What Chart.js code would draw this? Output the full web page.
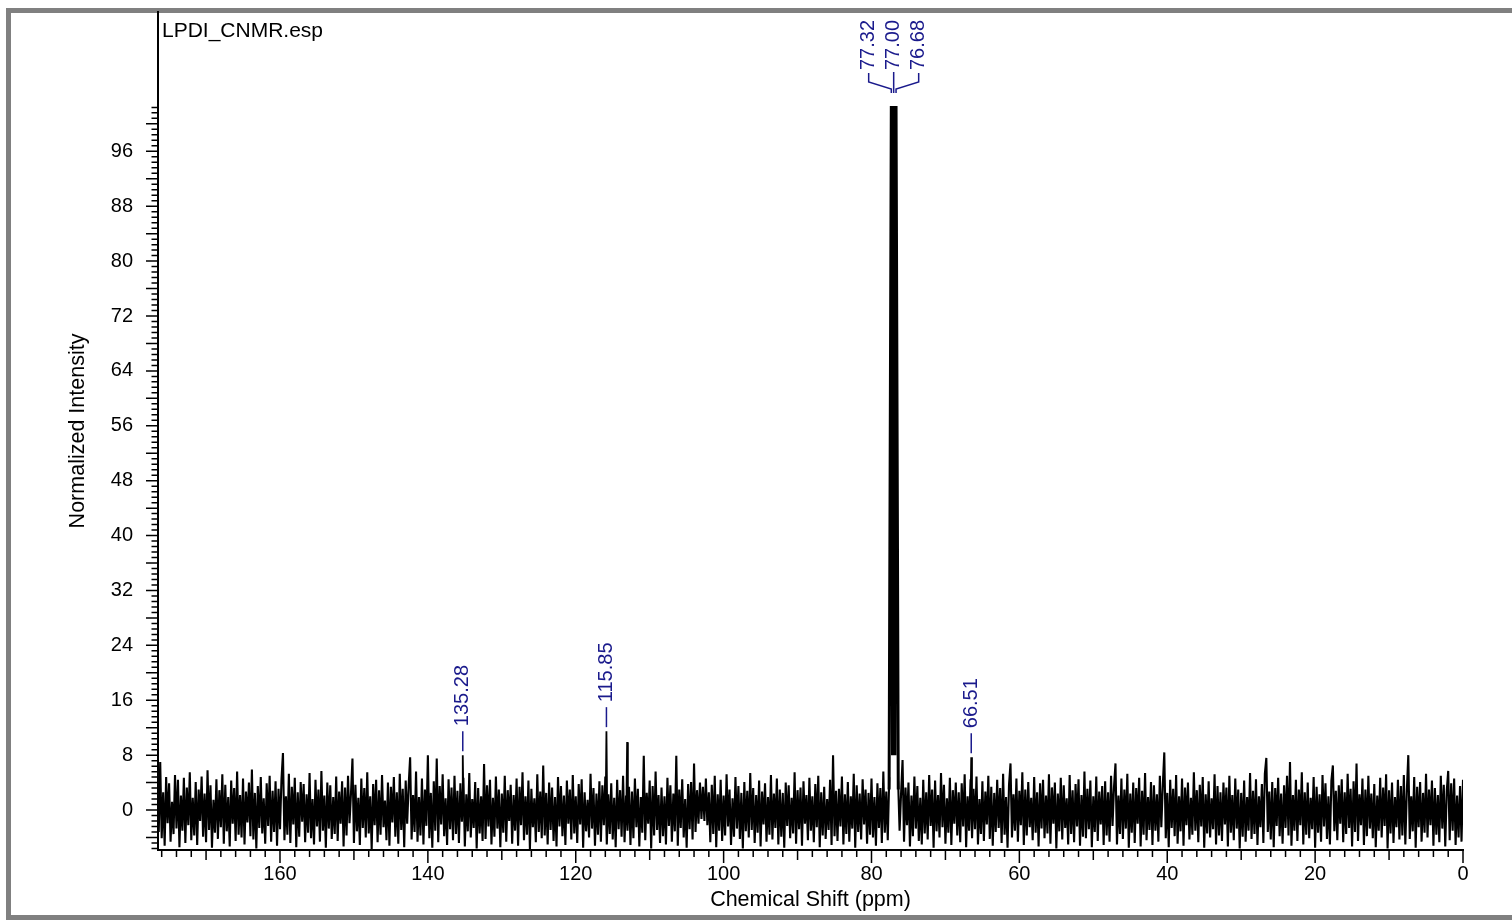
<!DOCTYPE html>
<html>
<head>
<meta charset="utf-8">
<title>LPDI_CNMR</title>
<script src="https://cdn.jsdelivr.net/npm/chart.js@4.4.1/dist/chart.umd.min.js"></script>
<style>
  html, body { margin: 0; padding: 0; background: #fff; }
  #frame {
    position: absolute; left: 6px; top: 8px; width: 1506px; height: 912px;
    box-sizing: border-box;
    border-left: 5px solid #808080; border-top: 5px solid #808080; border-bottom: 5px solid #808080;
  }
  #wrap { position: absolute; left: 0; top: 0; width: 1512px; height: 920px; }
</style>
</head>
<body>
<div id="frame"></div>
<div id="wrap"><canvas id="nmrChart"></canvas></div>
<script>
// --- Spectrum data ---
const fileName = 'LPDI_CNMR.esp';

// baseline noise, sampled every 0.2 ppm from 176.4 ppm down to 0 ppm (20 per row)
const ppmStart = 176.4;
const ppmStep = 0.2;
const intensity = [
  -3.2, 7.0, -4.1, 2.6, -5.2, 4.8, -1.9, 3.9, -4.6, 1.2, -3.5, 5.1, -2.7, 4.4, -5.4, 2.1, -3.0, 4.7, -4.8, 3.3,
  -2.2, 5.5, -4.4, 1.8, -3.7, 4.1, -5.1, 3.0, -1.6, 4.9, -3.9, 2.4, -4.7, 5.8, -2.9, 3.6, -5.5, 1.5, -3.3, 4.5,
  -4.2, 2.9, -2.5, 5.2, -4.9, 3.7, -3.1, 1.9, -5.3, 4.3, -2.0, 3.2, -4.5, 5.6, -3.6, 2.2, -4.0, 4.6, -5.0, 2.7,
  -1.8, 4.0, -3.8, 5.9, -4.3, 2.5, -5.6, 3.5, -2.6, 4.8, -3.4, 1.7, -4.9, 3.9, -2.3, 5.0, -4.6, 2.8, -3.2, 4.2,
  -5.2, 3.1, -2.8, 4.5, 8.3, -4.4, 2.0, -3.6, 5.3, -4.8, 3.4, -2.1, 4.7, -5.4, 2.6, -3.9, 4.1, -1.7, 3.8, -4.7,
  2.3, -3.3, 5.4, -4.1, 1.6, -5.0, 4.4, -2.4, 3.0, -4.6, 5.7, -3.0, 2.1, -5.5, 4.0, -2.7, 3.6, -4.2, 1.9, -3.5,
  4.9, -4.5, 2.7, -2.0, 4.2, -5.3, 3.3, -3.7, 5.0, -1.9, 2.4, 7.5, -4.8, 3.7, -3.1, 1.8, -5.1, 4.6, -2.6, 3.2,
  -4.0, 5.5, -3.4, 2.0, -5.7, 3.8, -2.2, 4.4, -4.7, 2.9, -3.6, 5.1, -2.5, 1.4, -4.4, 4.0, -5.2, 3.4, -1.8, 4.8,
  -3.9, 2.6, -4.9, 5.3, -2.9, 3.1, -5.4, 4.3, -2.0, 3.6, 7.7, -4.3, 2.2, -3.2, 5.6, -4.6, 1.9, -3.7, 4.6, -5.0,
  3.0, -2.3, 8.0, -4.1, 2.5, -5.5, 4.2, -3.0, 7.5, -4.7, 3.5, -2.1, 5.2, -3.8, 1.7, -5.1, 4.5, -2.8, 3.3, -4.4,
  5.0, -3.5, 2.8, -4.8, 3.9, -1.7, 4.7, -5.3, 2.3, -3.1, 5.4, -4.0, 1.6, -2.6, 4.1, -5.6, 3.2, -3.4, 2.0, -4.5,
  6.7, -4.2, 3.6, -2.4, 4.4, -5.0, 1.8, -3.9, 4.9, -2.7, 3.0, -5.4, 2.4, -3.3, 5.0, -4.6, 2.9, -1.6, 3.7, -4.9,
  2.2, -3.0, 4.6, -5.2, 3.4, -2.2, 5.5, -4.4, 2.0, -3.6, 4.3, -5.7, 3.1, -2.5, 1.7, -4.7, 5.2, -3.2, 2.7, -4.1,
  6.5, -3.7, 2.5, -5.0, 4.0, -2.9, 3.3, -4.5, 1.9, -5.3, 4.8, -2.4, 3.5, -3.8, 2.1, -5.1, 4.3, -2.0, 3.0, -4.3,
  5.1, -3.4, 2.0, -4.8, 3.8, -2.1, 4.5, -5.5, 2.6, -3.1, 1.5, -4.0, 5.3, -2.7, 3.2, -5.2, 2.4, -3.6, 4.2, -4.6,
  3.6, -2.2, 4.9, -5.0, 2.3, -3.5, 3.9, -4.3, 1.8, -5.4, 4.4, -2.8, 2.9, -3.9, 5.0, -4.7, 2.1, -3.0, 3.4, -5.1,
  2.7, -4.1, 4.6, -2.5, 3.1, -5.3, 1.9, -3.3, 7.9, -4.4, 2.5, -2.0, 4.3, -5.6, 3.5, -3.7, 5.6, -2.9, 2.2, -4.8,
  3.3, -3.8, 2.0, -5.0, 4.7, -2.3, 3.6, -4.6, 2.4, -3.1, 7.9, -5.2, 3.0, -2.6, 4.5, -4.0, 1.6, -5.5, 3.8, -2.8,
  4.1, -4.3, 6.8, -3.2, 2.9, -2.0, 4.0, -1.3, 3.4, -1.6, 4.6, -2.2, 2.6, -4.7, 3.7, -3.5, 5.0, -5.4, 2.3, -3.0,
  4.4, -4.5, 2.1, -3.7, 5.2, -2.4, 3.0, -5.1, 1.7, -3.9, 4.8, -2.7, 3.5, -4.2, 2.5, -5.6, 4.1, -3.1, 2.8, -4.0,
  5.4, -2.9, 3.2, -4.8, 2.2, -3.3, 4.3, -5.3, 2.7, -2.1, 3.9, -4.6, 1.9, -3.6, 5.1, -4.3, 2.4, -2.6, 4.6, -5.0,
  3.0, -3.9, 2.5, -5.5, 4.0, -2.3, 3.6, -4.1, 1.8, -3.4, 5.5, -4.9, 2.9, -2.8, 3.3, -5.2, 4.2, -2.0, 2.2, -4.4,
  4.7, -3.0, 2.0, -4.7, 3.8, -2.5, 5.0, -5.4, 2.6, -3.7, 3.4, -4.2, 1.6, -2.9, 4.4, -5.1, 8.0, -3.8, 2.8, -4.5,
  3.1, -2.4, 4.9, -5.0, 2.3, -3.5, 4.1, -4.6, 2.0, -2.7, 5.3, -5.5, 3.6, -3.2, 2.4, -4.3, 4.5, -2.1, 3.0, -4.9,
  2.5, -3.6, 4.6, -4.0, 1.9, -5.2, 3.9, -2.6, 3.2, -4.8, 5.6, -3.3, 2.7, -4.4, 4.8, null, null, null, null, null,
  4.2, -3.0, 2.4, 7.3, -4.6, 3.3, -2.2, 4.0, -5.3, 2.1, -3.8, 4.9, -2.7, 3.5, -4.5, 1.8, -5.0, 4.4, -3.4, 2.6,
  -4.3, 5.1, -2.3, 3.0, -5.5, 4.3, -3.1, 2.2, -4.0, 5.4, -2.5, 3.7, -4.9, 1.7, -3.3, 4.7, -5.1, 2.9, -2.0, 4.0,
  -3.7, 2.6, -4.7, 3.9, -2.4, 5.2, -5.4, 2.0, -3.0, 4.5, -4.1, 3.1, -2.8, 4.9, -5.0, 1.6, -3.5, 4.2, -4.5, 2.7,
  -2.1, 5.0, -4.2, 3.4, -5.2, 2.5, -3.2, 4.4, -2.6, 3.2, -4.8, 5.3, -3.6, 1.9, -5.5, 3.7, 6.8, -4.0, 2.3, -3.0,
  4.6, -4.6, 2.8, -2.2, 5.5, -5.1, 3.0, -3.7, 4.1, -2.5, 1.8, -4.4, 4.8, -3.3, 2.6, -5.3, 3.9, -2.7, 4.4, -4.1,
  2.1, -3.4, 5.2, -4.9, 3.3, -2.0, 4.0, -5.6, 2.4, -3.1, 4.7, -4.3, 3.6, -2.6, 1.7, -5.0, 5.1, -3.5, 2.9, -4.7,
  3.8, -2.4, 4.5, -5.2, 2.2, -3.9, 5.6, -4.1, 3.1, -2.8, 4.3, -5.4, 2.0, -3.2, 4.9, -4.5, 2.7, -2.1, 3.5, -5.1,
  4.2, -3.7, 2.6, -4.6, 5.0, -2.3, 3.4, 6.8, -5.0, 2.1, -3.5, 4.6, -4.2, 3.0, -2.7, 5.3, -5.5, 2.4, -3.3, 4.0,
  -4.8, 3.2, -2.0, 4.7, -5.3, 2.8, -3.6, 5.4, -4.4, 1.9, -2.9, 4.1, -5.1, 3.6, -3.0, 2.3, -4.6, 5.0, -2.5, 3.7,
  8.4, -4.1, 2.5, -5.4, 4.4, -2.6, 3.1, -3.8, 5.1, -4.9, 2.0, -3.1, 4.6, -5.2, 3.3, -2.2, 4.0, -4.3, 1.8, -3.6,
  5.5, -3.0, 2.9, -4.7, 3.7, -2.4, 4.8, -5.5, 2.3, -3.4, 4.2, -4.0, 1.7, -2.8, 5.2, -5.0, 3.5, -3.7, 2.6, -4.5,
  4.0, -2.1, 3.3, -5.3, 5.0, -3.3, 2.2, -4.4, 4.6, -2.7, 3.0, -5.6, 2.5, -3.9, 4.3, -4.6, 1.9, -3.0, 5.4, -4.2,
  2.8, -3.5, 4.5, -5.1, 2.0, -2.5, 3.8, -4.8, 5.3, 7.6, -3.2, 2.7, -4.3, 4.1, -5.4, 3.2, -2.3, 4.7, -3.8, 2.4,
  -4.9, 3.6, -2.6, 5.0, -3.7, 7.0, -5.2, 2.2, -3.0, 4.4, -4.5, 3.0, -2.2, 5.5, -5.0, 2.6, -3.6, 4.0, -4.1, 1.8,
  -2.8, 4.8, -5.5, 3.4, -3.3, 2.3, -4.6, 5.1, -2.4, 3.9, -4.2, 2.0, -5.0, 4.3, 6.5, -3.1, 2.8, -4.4, 3.6, -2.0,
  4.5, -4.7, 2.6, -3.5, 5.3, -2.6, 3.1, -5.3, 4.2, -3.2, 6.8, -4.5, 2.3, -2.2, 4.6, -5.1, 3.0, -3.8, 5.0, -2.7,
  2.4, -4.1, 3.8, -5.4, 2.1, -3.0, 4.7, -4.0, 3.3, -2.3, 5.2, -5.6, 2.9, -3.4, 4.0, -4.8, 1.9, -2.5, 4.4, -4.3,
  3.5, -3.7, 5.1, -5.0, 2.7, 8.0, -4.2, 2.0, -3.1, 4.8, -5.5, 3.4, -2.5, 4.1, -4.6, 2.5, -3.3, 5.3, -4.0, 3.0,
  -2.2, 4.3, -5.2, 3.2, -3.6, 2.2, -4.7, 5.0, -2.7, 3.7, -5.3, 2.8, 5.7, -4.4, 3.9, -3.0, 4.6, -5.1, 2.1, -4.0,
  3.5, -4.6, 4.4
];

// picked signals
const signalPpm = [135.28, 115.85, 113.05, 66.51];
const signalHeight = [8.0, 11.5, 9.9, 7.7];
const signalLabeled = [true, true, false, true];

// CDCl3 triplet
const solventPpm = [77.32, 77.00, 76.68];
const solventHeight = [102.6, 102.6, 102.6];

// axes
const xTickLabels = [160, 140, 120, 100, 80, 60, 40, 20, 0];
const yTickLabels = [0, 8, 16, 24, 32, 40, 48, 56, 64, 72, 80, 88, 96];
const xMinorStep = 2;
const yMinorStep = 0.8;

const fontFamily = '"Liberation Sans", Arial, sans-serif';
const labelColor = '#1a1a8c';

// --- Build datasets ---
const noiseData = intensity.map((v, i) => ({ x: +(ppmStart - i * ppmStep).toFixed(2), y: v }));

const signalData = [];
signalPpm.forEach((p, i) => {
    signalData.push({ x: p + 0.1, y: 0.5 });
    signalData.push({ x: p, y: signalHeight[i] });
    signalData.push({ x: p - 0.1, y: 0.5 });
    signalData.push({ x: p - 0.1, y: null });
});

const solventData = [{ x: solventPpm[0] + 0.3, y: 3 }];
solventPpm.forEach((p, i) => {
    if (i > 0) solventData.push({ x: (p + solventPpm[i - 1]) / 2, y: 8 });
    solventData.push({ x: p, y: solventHeight[i] });
});
solventData.push({ x: solventPpm[solventPpm.length - 1] - 0.3, y: 3 });

const xTickValues = [];
for (let v = 0; v <= 176; v += xMinorStep) xTickValues.push(v);
const yTickValues = [];
for (let k = -7; k <= 128; k++) yTickValues.push(k * yMinorStep * 10 / 10);

// --- Tick marks, file name and peak labels ---
const spectrumDecor = {
    id: 'spectrumDecor',
    afterDraw(chart) {
        const { ctx, chartArea, scales: { x, y } } = chart;
        ctx.save();

        // tick marks
        ctx.strokeStyle = '#000';
        ctx.lineWidth = 1.5;
        ctx.beginPath();
        x.ticks.forEach(t => {
            const px = x.getPixelForValue(t.value);
            const len = t.value % 20 === 0 ? 13 : (t.value % 10 === 0 ? 10 : 7);
            ctx.moveTo(px, chartArea.bottom);
            ctx.lineTo(px, chartArea.bottom + len);
        });
        y.ticks.forEach(t => {
            const py = y.getPixelForValue(t.value);
            const q = t.value / 4;
            const len = Math.abs(q - Math.round(q)) < 1e-6 ? 12 : 6.5;
            ctx.moveTo(chartArea.left, py);
            ctx.lineTo(chartArea.left - len, py);
        });
        ctx.stroke();

        // file name
        ctx.fillStyle = '#000';
        ctx.font = '21px ' + fontFamily;
        ctx.textAlign = 'left';
        ctx.textBaseline = 'middle';
        ctx.fillText(fileName, chartArea.left + 4, chartArea.top + 19);

        // peak labels
        ctx.fillStyle = labelColor;
        ctx.strokeStyle = labelColor;
        ctx.lineWidth = 1.5;
        ctx.font = '20px ' + fontFamily;
        const vText = (txt, px, py) => {
            ctx.save();
            ctx.translate(px, py);
            ctx.rotate(-Math.PI / 2);
            ctx.textAlign = 'left';
            ctx.textBaseline = 'middle';
            ctx.fillText(txt, 0, 0);
            ctx.restore();
        };

        signalPpm.forEach((p, i) => {
            if (!signalLabeled[i]) return;
            const px = x.getPixelForValue(p);
            const top = y.getPixelForValue(signalHeight[i]);
            ctx.beginPath();
            ctx.moveTo(px, top - 4);
            ctx.lineTo(px, top - 24);
            ctx.stroke();
            vText(p.toFixed(2), px, top - 29);
        });

        // bracketed multiplet label
        const top = y.getPixelForValue(Math.max(...solventHeight));
        const midX = x.getPixelForValue(solventPpm[1]);
        const spread = 25;
        ctx.beginPath();
        solventPpm.forEach((p, i) => {
            const lx = midX + (i - 1) * spread;
            const px = x.getPixelForValue(p);
            if (i === 1) {
                ctx.moveTo(lx, top - 34);
                ctx.lineTo(px, top - 13);
            } else {
                ctx.moveTo(lx, top - 33);
                ctx.lineTo(lx, top - 24);
                ctx.lineTo(px, top - 17);
                ctx.lineTo(px, top - 13);
            }
        });
        ctx.stroke();
        solventPpm.forEach((p, i) => {
            vText(p.toFixed(2), midX + (i - 1) * spread, top - 36);
        });

        ctx.restore();
    }
};

// --- Chart ---
const ctx = document.getElementById('nmrChart').getContext('2d');
new Chart(ctx, {
    type: 'line',
    data: {
        datasets: [
            { data: noiseData, borderColor: '#000', borderWidth: 2.1, pointRadius: 0, spanGaps: false, tension: 0 },
            { data: signalData, borderColor: '#000', borderWidth: 1.8, pointRadius: 0, spanGaps: false, tension: 0 },
            { data: solventData, borderColor: '#000', borderWidth: 3, pointRadius: 0, tension: 0 }
        ]
    },
    options: {
        responsive: true,
        maintainAspectRatio: false,
        animation: false,
        layout: { padding: { left: 0, top: 12, right: 49, bottom: 0 } },
        plugins: {
            legend: { display: false },
            tooltip: { enabled: false }
        },
        scales: {
            x: {
                type: 'linear',
                reverse: true,
                min: 0,
                max: 176.5,
                afterFit: s => { s.height = 70; },
                afterBuildTicks: s => { s.ticks = xTickValues.map(v => ({ value: v })); },
                grid: { display: true, drawOnChartArea: false, drawTicks: true, tickLength: 8, color: 'transparent' },
                border: { display: true, color: '#000', width: 2 },
                ticks: {
                    autoSkip: false, maxRotation: 0, minRotation: 0, padding: 4, color: '#000',
                    font: { family: fontFamily, size: 20 },
                    callback: v => xTickLabels.includes(v) ? String(v) : ''
                },
                title: {
                    display: true, text: 'Chemical Shift (ppm)', color: '#000',
                    font: { family: fontFamily, size: 21.5 }, padding: { top: 0, bottom: 7 }
                }
            },
            y: {
                type: 'linear',
                min: -5.82,
                max: 116.3,
                afterFit: s => { s.width = 158; },
                afterBuildTicks: s => { s.ticks = yTickValues.map(v => ({ value: v })); },
                grid: { display: true, drawOnChartArea: false, drawTicks: true, tickLength: 25, color: 'transparent' },
                border: { display: true, color: '#000', width: 2 },
                ticks: {
                    autoSkip: false, padding: 0, color: '#000',
                    font: { family: fontFamily, size: 20, lineHeight: 1 },
                    callback: v => yTickLabels.includes(v) ? String(v) : ''
                },
                title: {
                    display: true, text: 'Normalized Intensity', color: '#000',
                    font: { family: fontFamily, size: 21.5 }, padding: { top: 65, bottom: 0 }
                }
            }
        }
    },
    plugins: [spectrumDecor]
});
</script>
</body>
</html>
